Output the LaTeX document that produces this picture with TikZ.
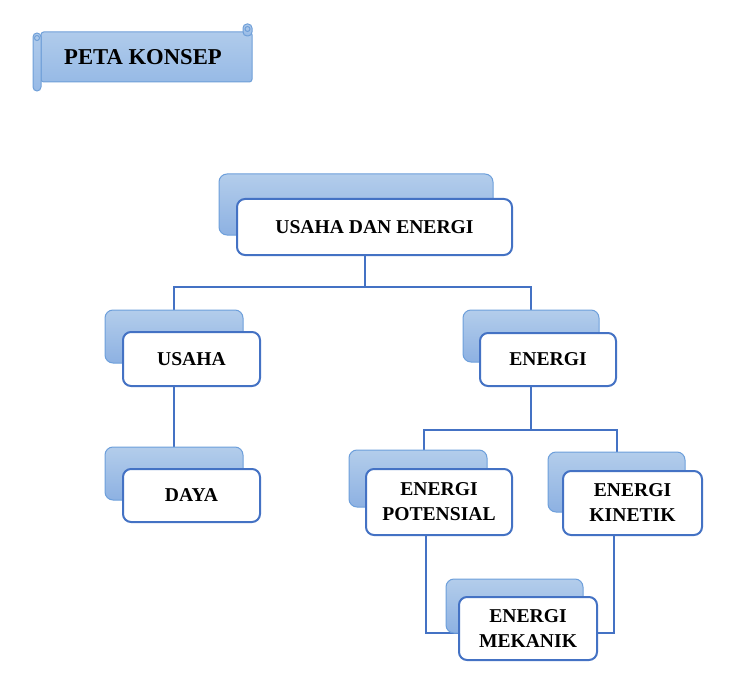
\documentclass[tikz,border=0pt]{standalone}
\usepackage{fontspec}
\setmainfont{Liberation Serif}
\usetikzlibrary{calc}
\definecolor{lineblue}{HTML}{4472C4}
\definecolor{backtop}{HTML}{B3CDEB}
\definecolor{backbot}{HTML}{8DB1E2}
\definecolor{backedge}{HTML}{6D9FDB}
\definecolor{bantop}{HTML}{B0CBEB}
\definecolor{banbot}{HTML}{97BAE6}
\definecolor{banedge}{HTML}{6F9FD8}
\begin{document}
\begin{tikzpicture}[x=0.75pt,y=-0.75pt,
  conn/.style={draw=lineblue,line width=1.5pt},
  backbox/.style={rectangle,rounded corners=6pt,top color=backtop,bottom color=backbot,draw=backedge,line width=0.75pt,inner sep=0pt},
  frontbox/.style={rectangle,rounded corners=6pt,fill=white,draw=lineblue,line width=1.5pt,inner sep=0pt,align=center,
    font=\bfseries\fontsize{14.7}{18.75}\selectfont},
  banner/.style={top color=bantop,bottom color=banbot,draw=banedge,line width=0.75pt},
]
\useasboundingbox (0,0) rectangle (733,692);
% banner
\path[banner,rounded corners=2pt] (41,32) rectangle (252,82);
\path[banner,rounded corners=3pt] (243,24) rectangle (252,36);
\draw[banedge,line width=0.75pt] (247.5,29) circle (2.5);
\path[banner,rounded corners=3pt] (33,33) rectangle (41,91);
\draw[banedge,line width=0.75pt] (37,38) circle (2.5);
\node[font=\bfseries\fontsize{17}{20}\selectfont] (judul) at (143,57) {PETA KONSEP};
% coordinates
\coordinate (j1) at (365,287);
\coordinate (j2) at (531,430);
\coordinate (k1) at (426,633);
\coordinate (k2) at (614,633);
% box positions
\path node[minimum width=205.5pt,minimum height=45.75pt] (ueb) at (356,204.5) {}
      node[minimum width=103.5pt,minimum height=39.75pt] (usb) at (174,336.5) {}
      node[minimum width=103.5pt,minimum height=39.75pt] (dab) at (174,473.5) {}
      node[minimum width=102pt,minimum height=39pt] (enb) at (531,336) {}
      node[minimum width=103.5pt,minimum height=42.75pt] (epb) at (418,478.5) {}
      node[minimum width=102.75pt,minimum height=45pt] (ekb) at (616.5,482) {}
      node[minimum width=102.75pt,minimum height=40.5pt] (emb) at (514.5,606) {};
\path node[minimum width=206.25pt,minimum height=42pt] (uef) at (374.5,227) {}
      node[minimum width=102.75pt,minimum height=40.5pt] (usf) at (191.5,359) {}
      node[minimum width=102.75pt,minimum height=39.75pt] (daf) at (191.5,495.5) {}
      node[minimum width=102pt,minimum height=39.75pt] (enf) at (548,359.5) {}
      node[minimum width=109.5pt,minimum height=49.5pt] (epf) at (439,502) {}
      node[minimum width=104.25pt,minimum height=48pt] (ekf) at (632.5,503) {}
      node[minimum width=103.5pt,minimum height=47.25pt] (emf) at (528,628.5) {};
% connectors
\draw[conn] (uef.south -| j1) -- (j1);
\draw[conn] (usb.north) |- (j1) -| (enb.north);
\draw[conn] (usf.south -| dab.north) -- (dab.north);
\draw[conn] (enf.south -| j2) -- (j2);
\draw[conn] ($(epb.north)+(6,0)$) |- (j2) -| (ekb.north);
\draw[conn] (epf.south -| k1) -- (k1) -- (k1 -| emf.west);
\draw[conn] (ekf.south -| k2) -- (k2) -- (k2 -| emf.east);
% back boxes drawn
\node[backbox,minimum width=205.5pt,minimum height=45.75pt] at (ueb) {};
\node[backbox,minimum width=103.5pt,minimum height=39.75pt] at (usb) {};
\node[backbox,minimum width=103.5pt,minimum height=39.75pt] at (dab) {};
\node[backbox,minimum width=102pt,minimum height=39pt] at (enb) {};
\node[backbox,minimum width=103.5pt,minimum height=42.75pt] at (epb) {};
\node[backbox,minimum width=102.75pt,minimum height=45pt] at (ekb) {};
\node[backbox,minimum width=102.75pt,minimum height=40.5pt] at (emb) {};
% front boxes
\node[frontbox,minimum width=206.25pt,minimum height=42pt] at (uef) {USAHA DAN ENERGI};
\node[frontbox,minimum width=102.75pt,minimum height=40.5pt] at (usf) {USAHA};
\node[frontbox,minimum width=102.75pt,minimum height=39.75pt] at (daf) {DAYA};
\node[frontbox,minimum width=102pt,minimum height=39.75pt] at (enf) {ENERGI};
\node[frontbox,minimum width=109.5pt,minimum height=49.5pt] at (epf) {ENERGI\\POTENSIAL};
\node[frontbox,minimum width=104.25pt,minimum height=48pt] at (ekf) {ENERGI\\KINETIK};
\node[frontbox,minimum width=103.5pt,minimum height=47.25pt] at (emf) {ENERGI\\MEKANIK};
\end{tikzpicture}
\end{document}
